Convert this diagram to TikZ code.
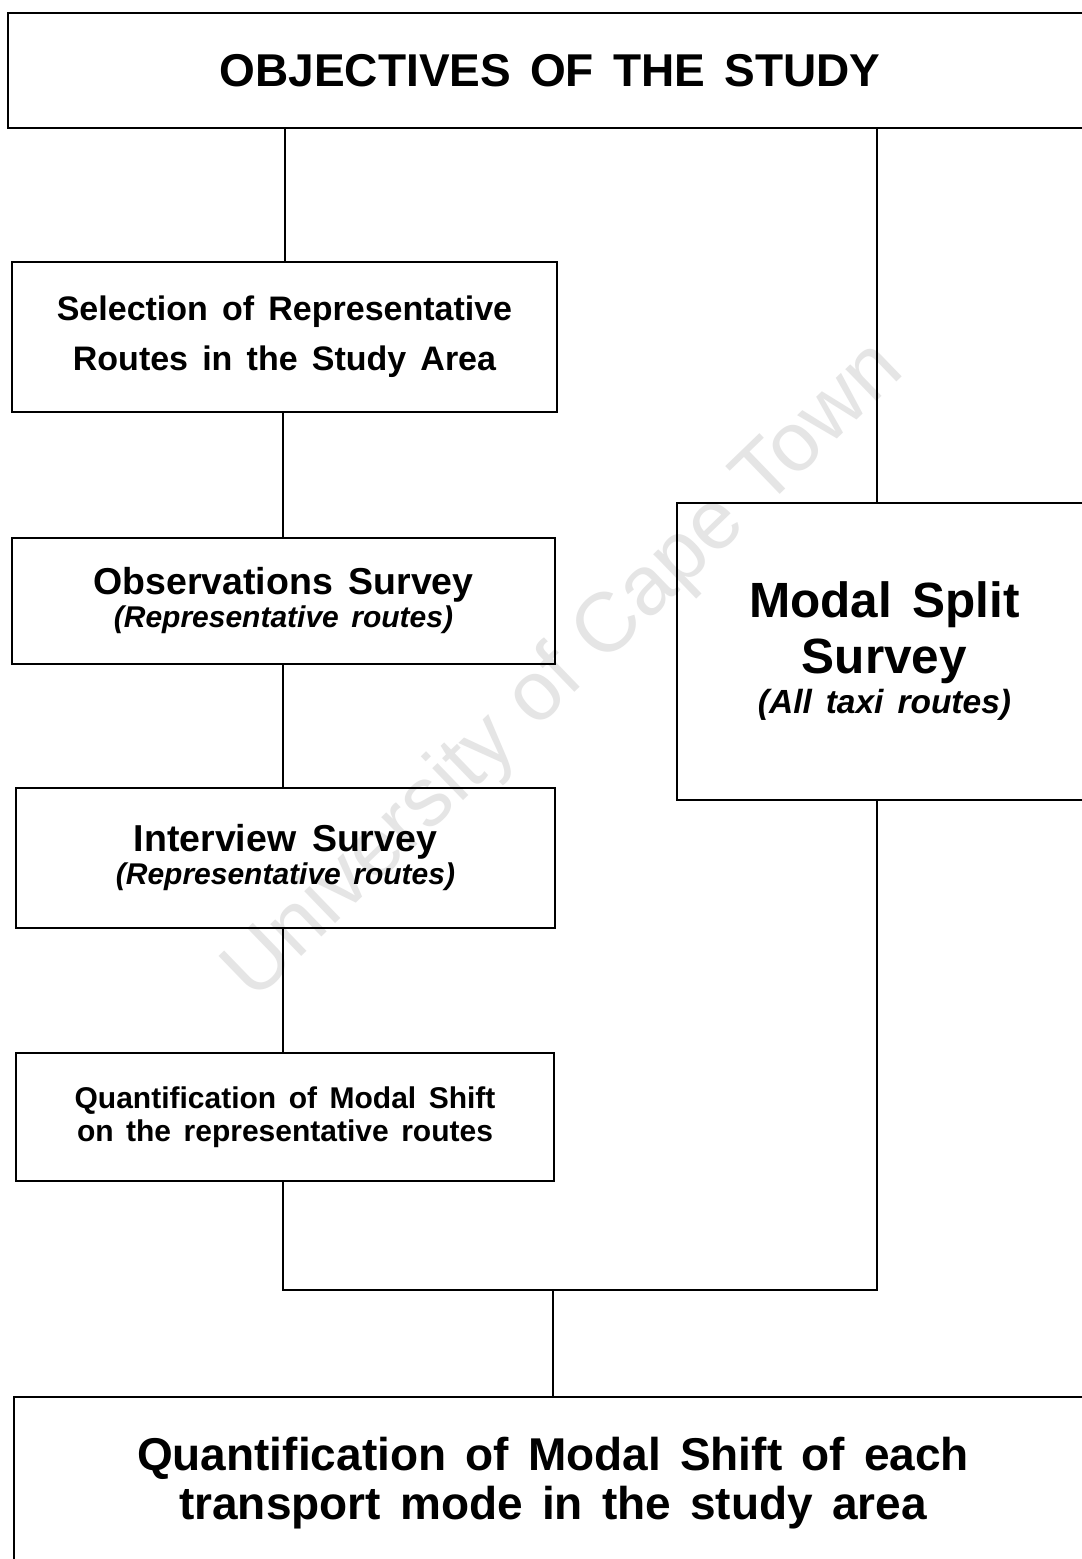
\documentclass[tikz,border=0pt]{standalone}
\usepackage{fontspec}
\setmainfont{Liberation Sans}[WordSpace=1.5]
\newfontfamily\wmfont{Liberation Sans}
\begin{document}
\begin{tikzpicture}[x=1pt,y=-1pt,
  box/.style={draw, line width=1.8pt, rectangle, inner sep=0pt, align=center},
  conn/.style={line width=1.8pt}]
\useasboundingbox[fill=white] (0,0) rectangle (1082,1559);
% watermark
\node[rotate=44, text=black!10, font=\wmfont\fontsize{84}{84}\selectfont] (wm) at (565,672) {University of Cape Town};
% boxes
\node[box, minimum width=1084pt, minimum height=115pt, font=\bfseries\fontsize{46}{46}\selectfont] (obj) at (550,70.5)
  {OBJECTIVES OF THE STUDY};
\node[box, minimum width=545pt, minimum height=150pt, font=\bfseries\fontsize{34}{50}\selectfont] (sel) at (284.5,337)
  {Selection of Representative\\Routes in the Study Area};
\node[box, minimum width=543pt, minimum height=126pt, font=\bfseries\fontsize{37.5}{33}\selectfont] (obs) at (283.5,601)
  {Observations Survey\\{\fontsize{30}{33}\selectfont\itshape (Representative routes)}};
\node[box, minimum width=539pt, minimum height=140pt, font=\bfseries\fontsize{37.5}{33}\selectfont] (int) at (285.5,858)
  {Interview Survey\\{\fontsize{30}{33}\selectfont\itshape (Representative routes)}};
\node[box, minimum width=538pt, minimum height=128pt, font=\bfseries\fontsize{30}{33}\selectfont] (qua) at (285,1117)
  {Quantification of Modal Shift\\on the representative routes};
\node[box, minimum width=415pt, minimum height=297pt, font=\bfseries\fontsize{49.5}{56}\selectfont] (mod) at (884.5,651.5)
  {Modal Split\\Survey\\[-16pt]{\fontsize{33.5}{33.5}\selectfont\itshape (All taxi routes)}};
\node[box, minimum width=1078pt, minimum height=173pt, font=\bfseries\fontsize{46}{49}\selectfont] (fin) at (553,1483.5)
  {Quantification of Modal Shift of each\\transport mode in the study area};
% connectors
\coordinate (jl) at (283,1290);
\coordinate (jr) at (877,1290);
\coordinate (jm) at (553,1290);
\draw[conn] (obj.south -| 285,0) -- (sel.north -| 285,0);
\draw[conn] (obj.south -| mod.north) ++(-7.5,0) coordinate (mt) -- (mt |- mod.north);
\draw[conn] (sel.south -| jl) -- (obs.north -| jl);
\draw[conn] (obs.south -| jl) -- (int.north -| jl);
\draw[conn] (int.south -| jl) -- (qua.north -| jl);
\draw[conn] (qua.south -| jl) -- (jl) -- (jr) -- (jr |- mod.south);
\draw[conn] (jm) -- (jm |- fin.north);
\end{tikzpicture}
\end{document}
